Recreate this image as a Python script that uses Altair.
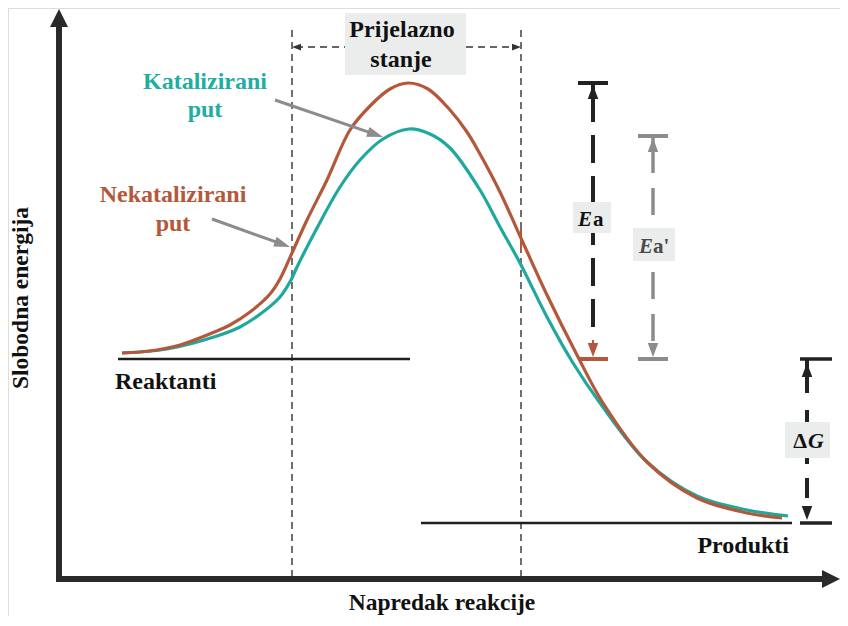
import math
import altair as alt
import pandas as pd

# ---------------- data (x = reaction progress, y = energy on a top-down scale) ----------------
uncat_x = [122, 150, 180, 217, 230, 250, 270, 280, 292, 307, 327, 350, 370, 390, 408,
           428, 450, 467, 480, 500, 520, 547, 577, 603, 647, 697, 747, 782]
uncat_y = [353, 351, 345, 331, 325, 312, 294, 279, 253, 220, 180, 130, 106, 89, 83,
           89, 110, 132, 154, 192, 236, 295, 355, 403, 462, 498, 513, 518]
cat_x = [122, 167, 217, 240, 263, 280, 291, 297, 317, 340, 360, 383, 409, 430, 450,
         480, 500, 520, 547, 573, 600, 647, 697, 747, 788]
cat_y = [353, 349, 336, 327, 312, 297, 280, 267, 228, 187, 160, 139, 129, 134, 148,
         190, 227, 263, 317, 363, 403, 462, 496, 510, 516]

reactant_level = 359
product_level = 523
reactant_span = [118, 410]
product_span = [421, 792]
ts_bounds = [292, 521]           # transition-state window
ts_arrow_level = 47
ts_box = [345, 466, 13, 75]
ea_x, ea_top = 593, 83
ea2_x, ea2_top = 653, 136
dg_x = 807
ea_box = [573, 611, 202, 233]
ea2_box = [633, 675, 228, 261]
dg_box = [785, 830, 422, 458]
axis_origin = [59, 579]
axis_ends = [9, 840]
pointer_cat = [275, 100, 383, 137]      # tail x, tail y, tip x, tip y
pointer_uncat = [212, 219, 290, 247]

BROWN = "#b3583a"
TEAL = "#1fa89d"
TEAL_TXT = "#22ada2"
GRAY = "#8c8c8c"
DARK = "#2a2a2a"
BOX = "#ebeded"
FONT = "Liberation Serif"

W, H = 832, 608
XS = alt.Scale(domain=[8, 8 + W], nice=False, zero=False)
YS = alt.Scale(domain=[8, 8 + H], reverse=True, nice=False, zero=False)


def enc_xy():
    return dict(x=alt.X("x:Q", scale=XS, axis=None), y=alt.Y("y:Q", scale=YS, axis=None))


def rules(rows, **kw):
    df = pd.DataFrame(rows, columns=["x", "y", "x2", "y2"])
    return alt.Chart(df).mark_rule(**kw).encode(**enc_xy(), x2="x2:Q", y2="y2:Q")


def rects(rows, color):
    df = pd.DataFrame(rows, columns=["x", "x2", "y", "y2"])
    return alt.Chart(df).mark_rect(color=color).encode(**enc_xy(), x2="x2:Q", y2="y2:Q")


def heads(rows, shape, size, color, angle=0):
    df = pd.DataFrame(rows, columns=["x", "y"])
    kw = dict(shape=shape, size=size, filled=True, color=color, opacity=1, strokeWidth=0)
    if angle:
        kw["angle"] = angle
    return alt.Chart(df).mark_point(**kw).encode(**enc_xy())


def texts(rows, color="#111111", size=24, **kw):
    df = pd.DataFrame(rows, columns=["x", "y", "t"])
    return alt.Chart(df).mark_text(font=FONT, fontWeight="bold", fontSize=size, color=color,
                                   baseline="alphabetic", **kw).encode(**enc_xy(), text="t:N")


def curve(xs, ys, color):
    df = pd.DataFrame({"x": xs, "y": ys})
    return alt.Chart(df).mark_line(color=color, strokeWidth=3.2,
                                   interpolate="catmull-rom").encode(**enc_xy())


def pointer(p):
    tx, ty, hx, hy = p
    L = math.hypot(hx - tx, hy - ty)
    ux, uy = (hx - tx) / L, (hy - ty) / L
    ang = math.degrees(math.atan2(hy - ty, hx - tx))
    line = rules([[tx, ty, hx - 12 * ux, hy - 12 * uy]], color=GRAY, strokeWidth=3)
    head = heads([[hx - 8 * ux, hy - 8 * uy]], "M1,0L-1,-0.65L-1,0.65Z", 256, GRAY, angle=ang)
    return [line, head]


UP = "M0,-1L0.75,1L-0.75,1Z"
DOWN = "M0,1L0.75,-1L-0.75,-1Z"
ox, oy = axis_origin
layers = []

# transition-state dashed window
layers.append(rules([[ts_bounds[0], 30, ts_bounds[0], oy], [ts_bounds[1], 30, ts_bounds[1], oy]],
                    color="#333333", strokeWidth=1.4, strokeDash=[7, 5]))
layers.append(rules([[ts_bounds[0] + 4, ts_arrow_level, ts_box[0], ts_arrow_level],
                     [ts_box[1], ts_arrow_level, ts_bounds[1] - 4, ts_arrow_level]],
                    color="#333333", strokeWidth=1.4, strokeDash=[7, 5]))
layers.append(heads([[ts_bounds[0] + 4.5, ts_arrow_level]], "M-1,0L1,-0.75L1,0.75Z", 81, "#333333"))
layers.append(heads([[ts_bounds[1] - 4.5, ts_arrow_level]], "M1,0L-1,-0.75L-1,0.75Z", 81, "#333333"))

# axes
layers.append(rules([[ox, axis_ends[0] + 16, ox, oy + 3], [ox - 3, oy, axis_ends[1] - 16, oy]],
                    color=DARK, strokeWidth=6))
layers.append(heads([[ox, axis_ends[0] + 9]], "M0,-1L1,1L-1,1Z", 324, DARK))
layers.append(heads([[axis_ends[1] - 9, oy]], "M1,0L-1,-1L-1,1Z", 324, DARK))

# energy levels
layers.append(rules([[reactant_span[0], reactant_level, reactant_span[1], reactant_level],
                     [product_span[0], product_level, product_span[1], product_level]],
                    color="#1e1e1e", strokeWidth=2.5))

# curves
layers.append(curve(cat_x, cat_y, TEAL))
layers.append(curve(uncat_x, uncat_y, BROWN))
layers.append(rules([[ts_bounds[1], 228, ts_bounds[1], 252]], color=BROWN, strokeWidth=2))

# Ea marker (black, brown bottom)
layers.append(rules([[ea_x, ea_top, ea_x, 122]], color="#222222", strokeWidth=4))
layers.append(rules([[ea_x, 135, ea_x, 340]], color="#222222", strokeWidth=4, strokeDash=[28, 13]))
layers.append(rules([[ea_x - 15, ea_top, ea_x + 15, ea_top]], color="#222222", strokeWidth=4))
layers.append(heads([[ea_x, ea_top + 9]], UP, 196, "#222222"))
layers.append(rules([[ea_x, 340, ea_x, 350]], color=BROWN, strokeWidth=2))
layers.append(heads([[ea_x, reactant_level - 9]], DOWN, 196, BROWN))
layers.append(rules([[578, reactant_level, ea_x + 15, reactant_level]], color=BROWN, strokeWidth=4))

# Ea' marker (gray)
layers.append(rules([[ea2_x, ea2_top, ea2_x, 173]], color=GRAY, strokeWidth=3.5))
layers.append(rules([[ea2_x, 188, ea2_x, 345]], color=GRAY, strokeWidth=3.5, strokeDash=[27, 15]))
layers.append(rules([[ea2_x - 15, ea2_top, ea2_x + 15, ea2_top],
                     [ea2_x - 15, reactant_level, ea2_x + 15, reactant_level]], color=GRAY, strokeWidth=4))
layers.append(heads([[ea2_x, ea2_top + 9]], UP, 196, GRAY))
layers.append(heads([[ea2_x, reactant_level - 9]], DOWN, 196, GRAY))

# Delta G marker
layers.append(rules([[dg_x, reactant_level, dg_x, 393]], color="#222222", strokeWidth=4))
layers.append(rules([[dg_x, 410, dg_x, 510]], color="#222222", strokeWidth=4, strokeDash=[20, 14]))
layers.append(rules([[dg_x - 7, reactant_level, dg_x + 25, reactant_level],
                     [dg_x - 7, product_level, dg_x + 25, product_level]], color="#222222", strokeWidth=3.5))
layers.append(heads([[dg_x, reactant_level + 11]], UP, 196, "#222222"))
layers.append(heads([[dg_x, product_level - 10]], DOWN, 196, "#222222"))

# label boxes
layers.append(rects([[ts_box[0], ts_box[1], ts_box[2], ts_box[3]],
                     ea_box, ea2_box, dg_box], BOX))

# pointer arrows
layers += pointer(pointer_cat)
layers += pointer(pointer_uncat)

# texts
layers.append(texts([[205, 89, "Katalizirani"], [205, 117, "put"]], color=TEAL_TXT, align="center"))
layers.append(texts([[173, 202, "Nekatalizirani"], [173, 231, "put"]], color=BROWN, align="center"))
layers.append(texts([[402, 37, "Prijelazno"], [401, 67, "stanje"]], align="center"))
layers.append(texts([[115, 389, "Reaktanti"]], align="left"))
layers.append(texts([[789, 553, "Produkti"]], align="right"))
layers.append(texts([[442, 610, "Napredak reakcije"]], size=23.5, align="center"))
layers.append(texts([[28, 298, "Slobodna energija"]], size=23.5, align="center", angle=270))

# Ea / Ea' / dG labels
layers.append(texts([[592, 226, "E"]], size=21, align="right", fontStyle="italic"))
layers.append(texts([[593, 226, "a"]], size=21, align="left"))
layers.append(texts([[653, 253, "E"]], size=21, color="#4a4a4a", align="right", fontStyle="italic"))
layers.append(texts([[653, 253, "a'"]], size=21, color="#4a4a4a", align="left"))
layers.append(texts([[807, 448, "Δ"]], size=22, align="right"))
layers.append(texts([[808, 448, "G"]], size=22, align="left", fontStyle="italic"))

chart = alt.layer(*layers).properties(
    width=W, height=H, padding=0, autosize="none"
).configure_view(strokeWidth=0).configure(background="white")

chart.save("out.html", embed_options={"renderer": "svg", "actions": False})
